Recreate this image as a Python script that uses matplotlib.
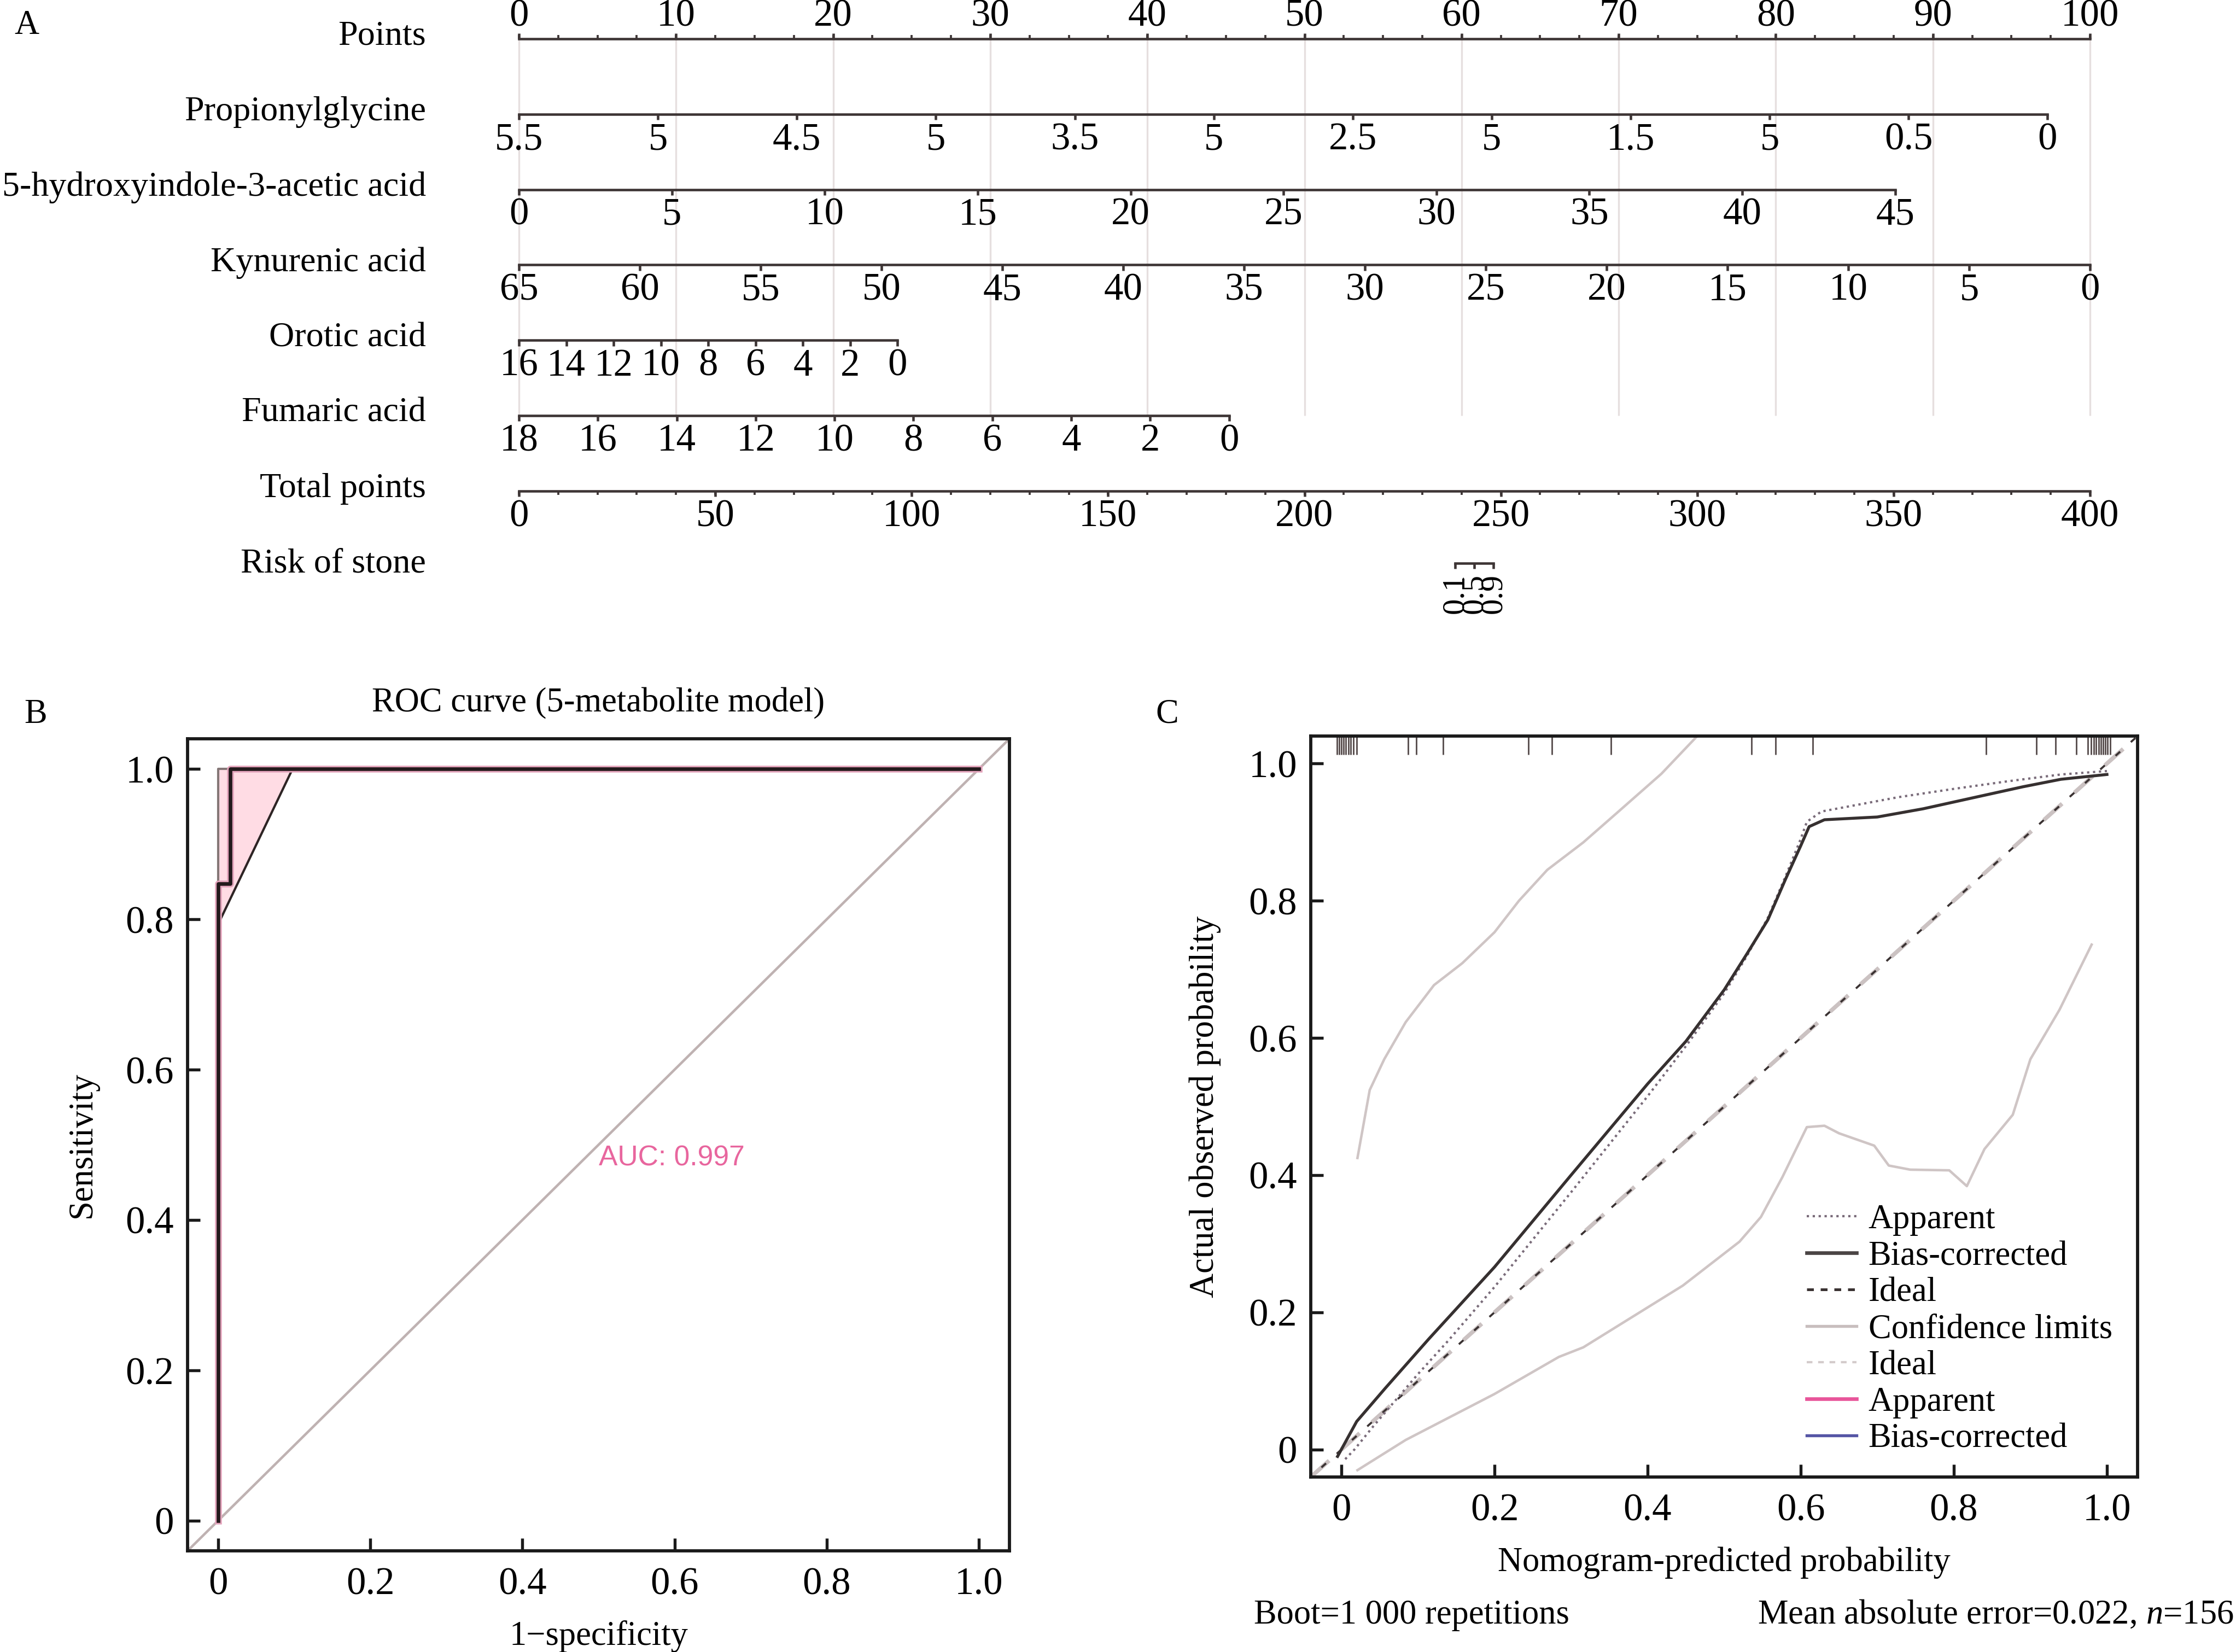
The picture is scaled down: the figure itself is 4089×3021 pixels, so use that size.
import numpy as np
import matplotlib
matplotlib.use("Agg")
import matplotlib.pyplot as plt
from matplotlib.lines import Line2D

W, H, DPI = 4089, 3021, 300

# ---------------- nomogram (panel A) ----------------
ROW_NAMES = ["Points", "Propionylglycine", "5-hydroxyindole-3-acetic acid",
             "Kynurenic acid", "Orotic acid", "Fumaric acid", "Total points", "Risk of stone"]
POINTS_MAJOR = list(range(0, 101, 10))
POINTS_MINOR = list(np.arange(0, 100.1, 2.5))

PROP_VALUES = [5.5, 5.0, 4.5, 4.0, 3.5, 3.0, 2.5, 2.0, 1.5, 1.0, 0.5, 0.0]
PROP_LABELS = ["5.5", "5", "4.5", "5", "3.5", "5", "2.5", "5", "1.5", "5", "0.5", "0"]
PROP_MAXPTS = 97.3
HIAA_VALUES = [0, 5, 10, 15, 20, 25, 30, 35, 40, 45]
HIAA_MAXPTS = 87.6
KYN_VALUES = [65, 60, 55, 50, 45, 40, 35, 30, 25, 20, 15, 10, 5, 0]
KYN_MAXPTS = 100.0
OROTIC_VALUES = [16, 14, 12, 10, 8, 6, 4, 2, 0]
OROTIC_MAXPTS = 24.1
FUM_VALUES = [18, 16, 14, 12, 10, 8, 6, 4, 2, 0]
FUM_MAXPTS = 45.2
TOTAL_MAJOR = list(range(0, 401, 50))
TOTAL_MINOR = list(range(0, 401, 10))
RISK_LABELS = ["0.1", "0.5", "0.9"]
RISK_TOTAL = [238.4, 243.2, 248.1]

# ---------------- ROC (panel B) ----------------
ROC_FPR = [0.0, 0.0, 0.016, 0.016, 1.0]
ROC_TPR = [0.0, 0.847, 0.847, 1.0, 1.0]
CI_FPR = [0.0, 0.098]
CI_LOW = [0.793, 1.0]
CI_HIGH = [1.0, 1.0]
CI_EDGE_FPR = [0.0, 0.0, 0.016]
CI_EDGE_TPR = [0.80, 1.0, 1.0]
AUC_TEXT = "AUC: 0.997"

# ---------------- calibration (panel C) ----------------
BIAS_X = [-0.005, 0.02, 0.057, 0.114, 0.2, 0.3, 0.4, 0.45, 0.5, 0.53, 0.557, 0.58,
          0.6, 0.611, 0.631, 0.7, 0.76, 0.829, 0.89, 0.94, 1.0]
BIAS_Y = [-0.01, 0.041, 0.089, 0.161, 0.266, 0.4, 0.533, 0.595, 0.67, 0.723, 0.772, 0.831,
          0.88, 0.908, 0.918, 0.922, 0.934, 0.951, 0.966, 0.977, 0.984]
APP_X = [0.005, 0.017, 0.041, 0.067, 0.1, 0.139, 0.2, 0.3, 0.4, 0.45, 0.5, 0.53, 0.557,
         0.58, 0.6, 0.608, 0.627, 0.728, 0.8, 0.87, 0.94, 1.0]
APP_Y = [-0.014, 0.0, 0.033, 0.067, 0.11, 0.158, 0.237, 0.375, 0.515, 0.588, 0.665, 0.72,
         0.775, 0.835, 0.89, 0.915, 0.93, 0.951, 0.963, 0.974, 0.984, 0.989]
CIU_X = [0.021, 0.037, 0.056, 0.084, 0.121, 0.158, 0.2, 0.232, 0.269, 0.316, 0.362, 0.418, 0.464]
CIU_Y = [0.425, 0.524, 0.569, 0.623, 0.677, 0.709, 0.754, 0.8, 0.845, 0.885, 0.93, 0.985, 1.039]
CIL_X = [0.021, 0.084, 0.2, 0.284, 0.316, 0.446, 0.52, 0.548, 0.576, 0.608, 0.631, 0.65,
         0.696, 0.715, 0.743, 0.794, 0.817, 0.84, 0.877, 0.9, 0.938, 0.98]
CIL_Y = [-0.03, 0.014, 0.081, 0.135, 0.149, 0.239, 0.303, 0.339, 0.397, 0.47, 0.472, 0.461,
         0.443, 0.414, 0.408, 0.407, 0.384, 0.438, 0.488, 0.569, 0.641, 0.736]
RUG_X = [-0.006, -0.003, 0.0, 0.003, 0.006, 0.009, 0.012, 0.016, 0.02, 0.087, 0.098, 0.133,
         0.244, 0.275, 0.352, 0.536, 0.567, 0.616, 0.842, 0.908, 0.933, 0.96, 0.975, 0.979,
         0.983, 0.986, 0.989, 0.992, 0.995, 0.998, 1.001, 1.004]

plt.rcParams["font.family"] = ["Liberation Serif", "DejaVu Serif"]
plt.rcParams["mathtext.fontset"] = "custom"
plt.rcParams["mathtext.rm"] = "Liberation Serif"
plt.rcParams["mathtext.it"] = "Liberation Serif:italic"

LINE = "#3d3535"
TXT = 15
NUM = 17

fig = plt.figure(figsize=(W / DPI, H / DPI), dpi=DPI)

# ---- panel A ----
A_H = 1250
ax_a = fig.add_axes([0, 1 - A_H / H, 1, A_H / H])
ppp = (3822 - 949) / 100.0
row0, rowpx = 71, 137.8
ax_a.set_xlim(-949 / ppp, (W - 949) / ppp)
ax_a.set_ylim((A_H - row0) / rowpx, -row0 / rowpx)
ax_a.axis("off")
label_x = (779 - 949) / ppp
tick = 0.075

for r, name in enumerate(ROW_NAMES):
    ax_a.text(label_x, r - 0.03, name, ha="right", va="center", fontsize=15.4)

# grid lines at every 10 points
ax_a.vlines(POINTS_MAJOR, 0, 5, color="#e6dfdf", lw=0.8, zorder=0)

# points axis (ticks up, labels above)
ax_a.plot([0, 100], [0, 0], color=LINE, lw=1.1)
ax_a.vlines(POINTS_MINOR, -tick * 0.7, 0, color=LINE, lw=0.9)
ax_a.vlines(POINTS_MAJOR, -tick, 0, color=LINE, lw=1.1)
for p in POINTS_MAJOR:
    ax_a.text(p, -0.3, str(p), ha="center", va="center", fontsize=NUM)


def to_points(values, maxpts):
    v = np.asarray(values, dtype=float)
    return (v - v[0]) / (v[-1] - v[0]) * maxpts


def var_axis(row, pts, labels):
    ax_a.plot([pts[0], pts[-1]], [row, row], color=LINE, lw=1.1)
    ax_a.vlines(pts, row, row + tick, color=LINE, lw=1.1)
    for p, lab in zip(pts, labels):
        ax_a.text(p, row + 0.34, lab, ha="center", va="center", fontsize=NUM)


var_axis(1, to_points(PROP_VALUES, PROP_MAXPTS), PROP_LABELS)
var_axis(2, to_points(HIAA_VALUES, HIAA_MAXPTS), [str(v) for v in HIAA_VALUES])
var_axis(3, to_points(KYN_VALUES, KYN_MAXPTS), [str(v) for v in KYN_VALUES])
var_axis(4, to_points(OROTIC_VALUES, OROTIC_MAXPTS), [str(v) for v in OROTIC_VALUES])
var_axis(5, to_points(FUM_VALUES, FUM_MAXPTS), [str(v) for v in FUM_VALUES])

# total points
tp = np.asarray(TOTAL_MINOR) / 4.0
ax_a.plot([tp[0], tp[-1]], [6, 6], color=LINE, lw=1.1)
ax_a.vlines(tp, 6, 6 + tick * 0.7, color=LINE, lw=0.9)
ax_a.vlines(np.asarray(TOTAL_MAJOR) / 4.0, 6, 6 + tick, color=LINE, lw=1.1)
for t in TOTAL_MAJOR:
    ax_a.text(t / 4.0, 6 + 0.34, str(t), ha="center", va="center", fontsize=NUM)

# risk
rp = np.asarray(RISK_TOTAL) / 4.0
rrow = 6.96
ax_a.plot([rp[0], rp[-1]], [rrow, rrow], color=LINE, lw=1.1)
ax_a.vlines(rp, rrow, rrow + tick, color=LINE, lw=1.1)
for p, lab in zip(rp, RISK_LABELS):
    ax_a.text(p, rrow + 0.14, lab, ha="center", va="top", rotation=90, fontsize=14)

fig.text(26 / W, 1 - 47 / H, "A", ha="left", va="center", fontsize=TXT)
fig.text(44 / W, 1 - 1307 / H, "B", ha="left", va="center", fontsize=TXT)
fig.text(2113 / W, 1 - 1307 / H, "C", ha="left", va="center", fontsize=TXT)


def style_axes(ax):
    ax.set_xlim(-0.04, 1.04)
    ax.set_ylim(-0.04, 1.04)
    ticks = [0, 0.2, 0.4, 0.6, 0.8, 1.0]
    labs = ["0", "0.2", "0.4", "0.6", "0.8", "1.0"]
    ax.set_xticks(ticks, labs)
    ax.set_yticks(ticks, labs)
    ax.tick_params(direction="in", length=5.5, width=1.3, labelsize=NUM, color="#1a1a1a")
    ax.tick_params(axis="x", pad=7)
    ax.tick_params(axis="y", pad=6)
    for s in ax.spines.values():
        s.set_linewidth(1.4)
        s.set_color("#1a1a1a")


# ---- panel B ----
ax_b = fig.add_axes([343 / W, 1 - 2836 / H, (1846 - 343) / W, (2836 - 1351) / H])
style_axes(ax_b)
ax_b.axline((0, 0), (1, 1), color="#bfb2b2", lw=1.1, zorder=1)
ax_b.fill_between(CI_FPR, CI_LOW, CI_HIGH, color="#ffdce4", lw=0, zorder=2)
ax_b.plot(CI_FPR, CI_LOW, color="#2d2424", lw=1.0, zorder=3)
ax_b.plot(CI_EDGE_FPR, CI_EDGE_TPR, color="#857777", lw=1.0, zorder=3)
ax_b.plot(ROC_FPR, ROC_TPR, color="#e3a3bb", lw=3.0, zorder=4)
ax_b.plot(ROC_FPR, ROC_TPR, color="#231a1c", lw=1.6, zorder=5)
ax_b.text(0.5, 0.5, AUC_TEXT, ha="left", va="top", color="#e8669e",
          fontsize=12.4, family=["Liberation Sans", "DejaVu Sans"])
ax_b.set_title("ROC curve (5-metabolite model)", fontsize=TXT, pad=12)
ax_b.set_xlabel("1\u2212specificity", fontsize=TXT, labelpad=8)
ax_b.set_ylabel("Sensitivity", fontsize=TXT, labelpad=12)

# ---- panel C ----
ax_c = fig.add_axes([2397 / W, 1 - 2701 / H, (3909 - 2397) / W, (2701 - 1346) / H])
style_axes(ax_c)
ax_c.vlines(RUG_X, 0.975, 1.0, transform=ax_c.get_xaxis_transform(),
            color="#5a5050", lw=0.7)
ax_c.axline((0, 0), (1, 1), color="#cbc2c2", lw=1.8, ls=(0, (6, 4)), zorder=1)
ax_c.axline((0, 0), (1, 1), color="#3a3232", lw=0.9, ls=(3, (3, 7)), zorder=2)
ax_c.plot(CIU_X, CIU_Y, color="#cfc5c5", lw=1.1)
ax_c.plot(CIL_X, CIL_Y, color="#cfc5c5", lw=1.1)
ax_c.plot(APP_X, APP_Y, color="#7a6c7a", lw=1.0, ls=(0, (1, 1.6)))
ax_c.plot(BIAS_X, BIAS_Y, color="#363030", lw=1.3)
ax_c.set_xlabel("Nomogram-predicted probability", fontsize=TXT, labelpad=8)
ax_c.set_ylabel("Actual observed probability", fontsize=TXT, labelpad=12)

handles = [
    Line2D([], [], color="#7a6c7a", lw=1.0, ls=(0, (1, 1.6))),
    Line2D([], [], color="#4a4444", lw=1.6),
    Line2D([], [], color="#3a3232", lw=1.2, ls=(0, (2.5, 2.5))),
    Line2D([], [], color="#c8bebe", lw=1.3),
    Line2D([], [], color="#d4cccc", lw=1.0, ls=(0, (2.5, 2.5))),
    Line2D([], [], color="#e8559a", lw=1.6),
    Line2D([], [], color="#5555a5", lw=1.3),
]
names = ["Apparent", "Bias-corrected", "Ideal", "Confidence limits", "Ideal",
         "Apparent", "Bias-corrected"]
ax_c.legend(handles, names, loc="upper left", bbox_to_anchor=(0.6, 0.368),
            frameon=False, fontsize=TXT, borderaxespad=0, borderpad=0,
            handlelength=1.45, handletextpad=0.35, labelspacing=0.14)

fig.text(2293 / W, 1 - 2954 / H, "Boot=1 000 repetitions", ha="left", va="center", fontsize=TXT)
fig.text(1 - 4 / W, 1 - 2954 / H, "Mean absolute error=0.022, $n$=156",
         ha="right", va="center", fontsize=TXT)

fig.savefig("out.png", dpi=DPI)
